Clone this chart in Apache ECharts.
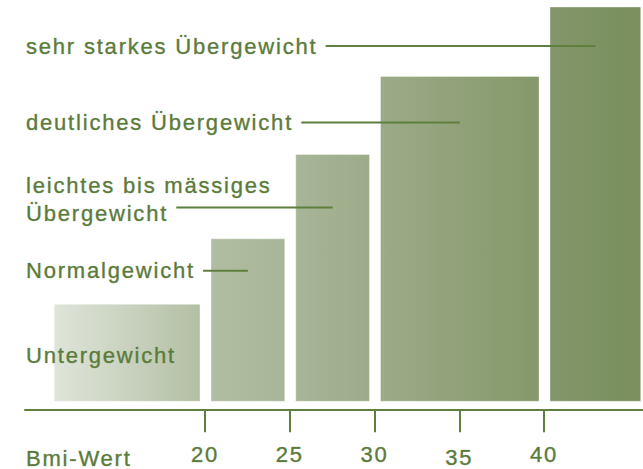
<!DOCTYPE html>
<html>
<head>
<meta charset="utf-8">
<script src="https://cdn.jsdelivr.net/npm/echarts@6/dist/echarts.min.js"></script>
<style>
  html, body { margin: 0; padding: 0; background: #ffffff; }
  #main { width: 643px; height: 469px; }
  #main text { letter-spacing: 1.8px; }
</style>
</head>
<body>
<div id="main"></div>
<script>
// ---- data ----
const categories = ['Untergewicht', 'Normalgewicht', 'leichtes bis mässiges\nÜbergewicht', 'deutliches Übergewicht', 'sehr starkes Übergewicht'];
const bmiFrom = [10.75, 20, 25, 30, 40];
const bmiTo = [20, 25, 30, 40, 46];
const heights = [24.6, 41.2, 62.6, 82.4, 100];
const tickValues = [20, 25, 30, 35, 40];
const axisTitle = 'Bmi-Wert';

// ---- styling / layout ----
const textColor = '#5b7b3b';
const lineColor = '#5f7f3f';
const fontFamily = '"Liberation Sans", Arial, Helvetica, sans-serif';
const fontSize = 22;
const letterSpacing = 1.8;
const barGradients = [
  ['#dfe5d9', '#b3bfa4'],
  ['#b1bda2', '#a8b597'],
  ['#a8b597', '#9cac89'],
  ['#9bab88', '#85986a'],
  ['#82966a', '#7a8f5c']
];
const labelDy = [51, 32, 59, 46, 39];      // last text line centre below bar top (px)
const leaderDy = [null, 32, 53, 46, 39];   // leader line below bar top (px)
const barInsetL = 6, barInsetR = 5;
const textStrokeStyle = { textBorderColor: 'rgba(91,123,59,0.6)', textBorderWidth: 0.6 };

const measureCtx = document.createElement('canvas').getContext('2d');
measureCtx.font = fontSize + 'px ' + fontFamily;
function textWidth(s) {
  return measureCtx.measureText(s).width + letterSpacing * (s.length - 1);
}

const seriesData = categories.map((c, i) => [bmiFrom[i], bmiTo[i], heights[i], i]);

const chart = echarts.init(document.getElementById('main'), null, { renderer: 'svg' });

chart.setOption({
  backgroundColor: '#ffffff',
  animation: false,
  grid: { left: 25, right: 0, top: 7, bottom: 55 },
  xAxis: {
    type: 'value',
    min: 9.381,
    max: 45.84,
    splitLine: { show: false },
    axisLine: { show: true, onZero: false, lineStyle: { color: lineColor, width: 2 } },
    axisTick: { show: true, customValues: tickValues, length: 22, lineStyle: { color: lineColor, width: 2 } },
    axisLabel: Object.assign({
      customValues: tickValues,
      margin: 44,
      verticalAlign: 'middle',
      color: textColor,
      fontSize: fontSize,
      fontFamily: fontFamily,
      formatter: v => (v === 35 ? '{low|35}' : String(v)),
      rich: { low: Object.assign({ color: textColor, fontSize: fontSize, fontFamily: fontFamily, padding: [7, 0, 0, 0] }, textStrokeStyle) }
    }, textStrokeStyle)
  },
  yAxis: { type: 'value', min: -2.26, max: 100, show: false },
  graphic: [{
    type: 'text',
    x: 26, y: 458,
    style: {
      text: axisTitle, fill: textColor, font: fontSize + 'px ' + fontFamily, verticalAlign: 'middle', align: 'left',
      stroke: textStrokeStyle.textBorderColor, lineWidth: textStrokeStyle.textBorderWidth
    }
  }],
  series: [{
    type: 'custom',
    clip: true,
    data: seriesData,
    encode: { x: [0, 1], y: 2 },
    renderItem: function (params, api) {
      const i = api.value(3);
      const p0 = api.coord([api.value(0), 0]);
      const p1 = api.coord([api.value(1), api.value(2)]);
      const x0 = p0[0] + barInsetL;
      const x1 = p1[0] - barInsetR;
      const top = p1[1];
      const bottom = p0[1];
      const g = barGradients[i];
      const children = [{
        type: 'rect',
        shape: { x: x0, y: top, width: x1 - x0, height: bottom - top },
        style: {
          fill: { type: 'linear', x: 0, y: 0, x2: 1, y2: 0, colorStops: [{ offset: 0, color: g[0] }, { offset: 1, color: g[1] }] },
          stroke: 'rgba(255,255,255,0.35)', lineWidth: 1
        }
      }];
      const label = categories[i];
      const lines = label.split('\n');
      const lineH = 28;
      const textX = 26;
      const textCy = top + labelDy[i];
      children.push({
        type: 'text',
        x: textX,
        y: textCy + lineH / 2,
        style: {
          text: label, fill: textColor, font: fontSize + 'px ' + fontFamily,
          align: 'left', verticalAlign: 'bottom', lineHeight: lineH,
          stroke: textStrokeStyle.textBorderColor, lineWidth: textStrokeStyle.textBorderWidth
        },
        z2: 10
      });
      if (leaderDy[i] !== null) {
        const lastW = textWidth(lines[lines.length - 1]);
        const ly = top + leaderDy[i];
        children.push({
          type: 'line',
          shape: { x1: textX + lastW + 10, y1: ly, x2: (x0 + x1) / 2, y2: ly },
          style: { stroke: lineColor, lineWidth: 2 },
          z2: 10
        });
      }
      return { type: 'group', children: children };
    }
  }]
});
</script>
</body>
</html>
